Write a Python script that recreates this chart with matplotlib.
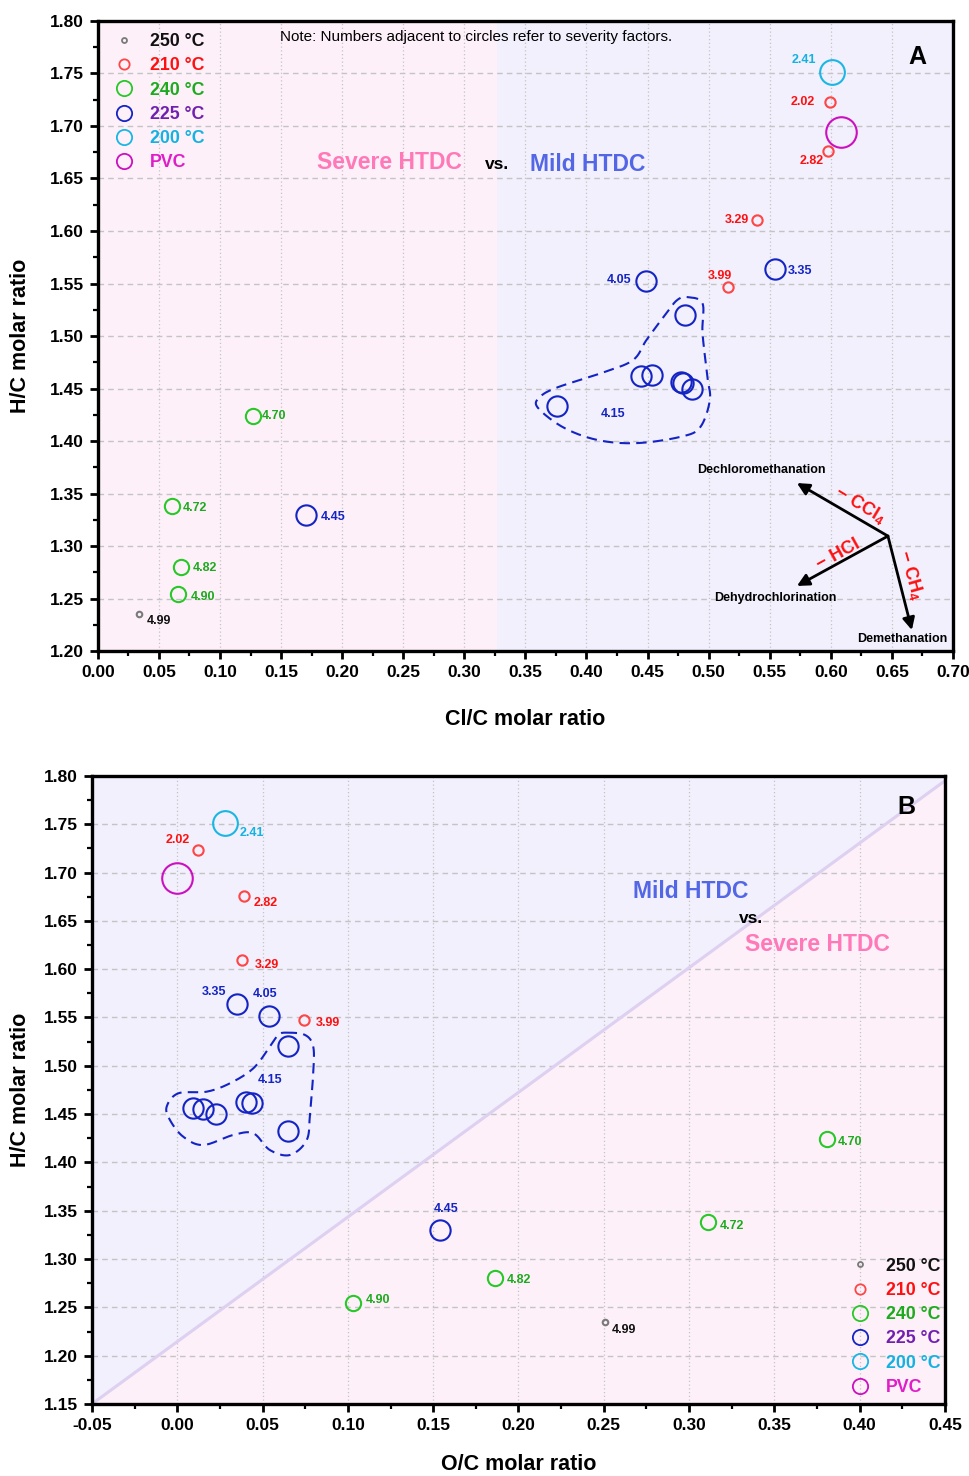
import numpy as np
import matplotlib
matplotlib.use("Agg")
import matplotlib.pyplot as plt
from matplotlib.lines import Line2D
from matplotlib.ticker import MultipleLocator, FormatStrFormatter

plt.rcParams['font.family'] = ['Liberation Sans', 'DejaVu Sans']
plt.rcParams['mathtext.fontset'] = 'custom'
plt.rcParams['mathtext.rm'] = 'Liberation Sans'
plt.rcParams['mathtext.bf'] = 'Liberation Sans:bold'
plt.rcParams['axes.unicode_minus'] = False

# Elemental ratios of hydrochar samples, grouped by HTDC temperature
hc_250 = [1.235]
clc_250 = [0.034]
oc_250 = [0.251]
sf_250 = [4.99]

hc_210 = [1.723, 1.676, 1.610, 1.547]
clc_210 = [0.599, 0.598, 0.540, 0.516]
oc_210 = [0.012, 0.039, 0.038, 0.074]
sf_210 = [2.02, 2.82, 3.29, 3.99]

hc_240 = [1.424, 1.338, 1.280, 1.254]
clc_240 = [0.127, 0.061, 0.068, 0.066]
oc_240 = [0.381, 0.311, 0.186, 0.103]
sf_240 = [4.70, 4.72, 4.82, 4.90]

hc_225 = [1.564, 1.552, 1.330]
clc_225 = [0.554, 0.449, 0.170]
oc_225 = [0.035, 0.054, 0.154]
sf_225 = [3.35, 4.05, 4.45]

# 225 °C samples at severity factor 4.15
hc_225c = [1.520, 1.463, 1.462, 1.456, 1.455, 1.450, 1.433]
clc_225c = [0.481, 0.454, 0.445, 0.477, 0.479, 0.486, 0.376]
oc_225c = [0.065, 0.040, 0.044, 0.009, 0.015, 0.023, 0.065]
sf_225c = 4.15

hc_200 = [1.751]
clc_200 = [0.601]
oc_200 = [0.028]
sf_200 = [2.41]

hc_pvc = [1.694]
clc_pvc = [0.608]
oc_pvc = [0.000]

legend_labels = ['250 °C', '210 °C', '240 °C', '225 °C', '200 °C', 'PVC']

# marker style per group: edge colour, label colour, marker size (pt)
sty = {
    '250': dict(ec='#7a7a7a', tc='#111111', ms=4.0),
    '210': dict(ec='#ff4545', tc='#ff1010', ms=7.4),
    '240': dict(ec='#28c828', tc='#1eaa1e', ms=11.0),
    '225': dict(ec='#1424c4', tc='#1424c4', ms=14.6),
    '200': dict(ec='#1ab6e4', tc='#14b2e0', ms=17.8),
    'PVC': dict(ec='#cc10c0', tc='#cc10c0', ms=22.0),
}
legend_colors = ['#111111', '#ff1010', '#1eaa1e', '#7020b0', '#14b2e0', '#e01ec8']
legend_ms = [3.6, 7.4, 11.0, 11.0, 11.0, 11.0]
legend_ec = [sty[k]['ec'] for k in ['250', '210', '240', '225', '200', 'PVC']]

pink = '#fdf0f9'
lav = '#f1f0fc'
c_sev = '#ff78b8'
c_mild = '#5266e6'

fig = plt.figure(figsize=(9.69, 14.76), dpi=100)
axA = fig.add_axes([0.101, 0.5589, 0.8824, 0.4269])
axB = fig.add_axes([0.0949, 0.0488, 0.8803, 0.4255])


def smooth_closed(pts, n=30):
    # closed Catmull-Rom curve through the outline vertices
    p = np.asarray(pts, float)
    m = len(p)
    out = []
    for i in range(m):
        p0, p1, p2, p3 = p[i - 1], p[i], p[(i + 1) % m], p[(i + 2) % m]
        t = np.linspace(0, 1, n, endpoint=False)[:, None]
        out.append(0.5 * ((2 * p1) + (-p0 + p2) * t + (2 * p0 - 5 * p1 + 4 * p2 - p3) * t ** 2
                          + (-p0 + 3 * p1 - 3 * p2 + p3) * t ** 3))
    out = np.vstack(out)
    return np.vstack([out, out[:1]])


def style_axes(ax, xlim, ylim, xlabel):
    ax.set_xlim(*xlim)
    ax.set_ylim(*ylim)
    ax.xaxis.set_major_locator(MultipleLocator(0.05))
    ax.xaxis.set_minor_locator(MultipleLocator(0.025))
    ax.yaxis.set_major_locator(MultipleLocator(0.05))
    ax.yaxis.set_minor_locator(MultipleLocator(0.025))
    ax.xaxis.set_major_formatter(FormatStrFormatter('%.2f'))
    ax.yaxis.set_major_formatter(FormatStrFormatter('%.2f'))
    ax.tick_params(which='major', direction='out', length=6, width=2, labelsize=12.5, pad=4)
    ax.tick_params(which='minor', direction='out', length=3.5, width=1.6)
    for lab in ax.get_xticklabels() + ax.get_yticklabels():
        lab.set_fontweight('bold')
    for sp in ax.spines.values():
        sp.set_linewidth(2.4)
    ax.grid(axis='y', which='major', color='#c4c4c4', lw=1.0, ls=(0, (4, 3)))
    ax.grid(axis='x', which='major', color='#c4c4c4', lw=0.9, ls=(0, (1, 2)))
    ax.set_axisbelow(True)
    ax.set_xlabel(xlabel, fontsize=15.5, fontweight='bold')
    ax.set_ylabel('H/C molar ratio', fontsize=15.5, fontweight='bold')


def circles(ax, x, y, key, z=4):
    s = sty[key]
    ax.plot(x, y, ls='none', marker='o', mfc='none', mec=s['ec'], ms=s['ms'], mew=1.5, zorder=z)


def sf_labels(ax, x, y, sf, key, offs):
    for xi, yi, v, (dx, dy, ha) in zip(x, y, sf, offs):
        ax.annotate(f'{v:.2f}', (xi, yi), xytext=(dx, dy), textcoords='offset pixels',
                    ha=ha, va='center', fontsize=9, fontweight='bold',
                    color=sty[key]['tc'], zorder=5)


def legend(ax, **kw):
    handles = [Line2D([], [], ls='none', marker='o', mfc='none', mec=c, ms=m, mew=1.3)
               for c, m in zip(legend_ec, legend_ms)]
    leg = ax.legend(handles, legend_labels, frameon=False, labelcolor=legend_colors,
                    prop=dict(size=12.8, weight='bold'), handlelength=1.0,
                    handletextpad=0.98, labelspacing=0.41, borderpad=0, borderaxespad=0, **kw)
    leg.set_zorder(6)


# ---------------- panel A: H/C vs Cl/C ----------------
ax = axA
style_axes(ax, (0, 0.70), (1.20, 1.80), 'Cl/C molar ratio')
ax.axvspan(0, 0.327, color=pink, zorder=0, lw=0)
ax.axvspan(0.327, 0.70, color=lav, zorder=0, lw=0)

circles(ax, clc_250, hc_250, '250')
circles(ax, clc_210, hc_210, '210')
circles(ax, clc_240, hc_240, '240')
circles(ax, clc_225, hc_225, '225')
circles(ax, clc_225c, hc_225c, '225')
circles(ax, clc_200, hc_200, '200')
circles(ax, clc_pvc, hc_pvc, 'PVC')

sf_labels(ax, clc_250, hc_250, sf_250, '250', [(7, -7, 'left')])
sf_labels(ax, clc_210, hc_210, sf_210, '210',
          [(-15, 0, 'right'), (-5, -10, 'right'), (-8, 0, 'right'), (-8, 11, 'center')])
sf_labels(ax, clc_240, hc_240, sf_240, '240',
          [(9, 0, 'left'), (10, -2, 'left'), (12, -1, 'left'), (12, -3, 'left')])
sf_labels(ax, clc_225, hc_225, sf_225, '225',
          [(13, -2, 'left'), (-15, 1, 'right'), (15, -2, 'left')])
sf_labels(ax, clc_200, hc_200, sf_200, '200', [(-16, 12, 'right')])
ax.text(0.4216, 1.4257, f'{sf_225c:.2f}', ha='center', va='center', fontsize=9,
        fontweight='bold', color=sty['225']['tc'])

outline_A = [(0.483, 1.537), (0.495, 1.531), (0.495, 1.503), (0.499, 1.461), (0.501, 1.439),
             (0.493, 1.413), (0.477, 1.404), (0.441, 1.398), (0.409, 1.401), (0.381, 1.413),
             (0.360, 1.432), (0.362, 1.442), (0.376, 1.451), (0.413, 1.465), (0.438, 1.477),
             (0.449, 1.496), (0.463, 1.518), (0.474, 1.534)]
oa = smooth_closed(outline_A)
ax.plot(oa[:, 0], oa[:, 1], color='#1424c4', lw=1.5, ls=(0, (5, 3)), zorder=3)

ax.text(0.149, 1.785, 'Note: Numbers adjacent to circles refer to severity factors.',
        fontsize=11, ha='left', va='center')
ax.text(0.239, 1.665, 'Severe HTDC', color=c_sev, fontsize=16.5, fontweight='bold',
        ha='center', va='center')
ax.text(0.3267, 1.663, 'vs.', fontsize=12.5, fontweight='bold', ha='center', va='center')
ax.text(0.401, 1.663, 'Mild HTDC', color=c_mild, fontsize=16.5, fontweight='bold',
        ha='center', va='center')
ax.text(0.6705, 1.766, 'A', fontsize=18, fontweight='bold', ha='center', va='center')

# reaction pathway arrows
origin = (0.6468, 1.3095)
arrow_kw = dict(arrowstyle='-|>', lw=2.0, color='black', mutation_scale=18, shrinkA=0, shrinkB=0)
for tip in [(0.5723, 1.360), (0.5723, 1.262), (0.6664, 1.220)]:
    ax.annotate('', xy=tip, xytext=origin, arrowprops=arrow_kw, zorder=5)
ax.text(0.5436, 1.3724, 'Dechloromethanation', fontsize=9, fontweight='bold', ha='center', va='center')
ax.text(0.5543, 1.2505, 'Dehydrochlorination', fontsize=9, fontweight='bold', ha='center', va='center')
ax.text(0.6583, 1.2114, 'Demethanation', fontsize=9, fontweight='bold', ha='center', va='center')
ax.text(0.6239, 1.339, r'$\mathbf{-\ CCl_4}$', color='#ff1010', fontsize=13,
        rotation=-31, ha='center', va='center', rotation_mode='anchor')
ax.text(0.6059, 1.2914, r'$\mathbf{-\ HCl}$', color='#ff1010', fontsize=13,
        rotation=29, ha='center', va='center', rotation_mode='anchor')
ax.text(0.6656, 1.2724, r'$\mathbf{-\ CH_4}$', color='#ff1010', fontsize=13,
        rotation=-74, ha='center', va='center', rotation_mode='anchor')

legend(ax, loc='upper left', bbox_to_anchor=(0.0202, 0.981))
ax.xaxis.set_label_coords(0.5, -0.092)
ax.yaxis.set_label_coords(-0.078, 0.5)

# ---------------- panel B: H/C vs O/C ----------------
ax = axB
style_axes(ax, (-0.05, 0.45), (1.15, 1.80), 'O/C molar ratio')
dx = np.array([-0.05, 0.45])
dy = np.array([1.15, 1.795])
ax.fill_between(dx, dy, 1.80, color=lav, zorder=0, lw=0)
ax.fill_between(dx, 1.15, dy, color=pink, zorder=0, lw=0)
ax.plot(dx, dy, color='#ddd0f0', lw=2.2, zorder=1)

circles(ax, oc_250, hc_250, '250')
circles(ax, oc_210, hc_210, '210')
circles(ax, oc_240, hc_240, '240')
circles(ax, oc_225, hc_225, '225')
circles(ax, oc_225c, hc_225c, '225')
circles(ax, oc_200, hc_200, '200')
circles(ax, oc_pvc, hc_pvc, 'PVC')

sf_labels(ax, oc_250, hc_250, sf_250, '250', [(6, -8, 'left')])
sf_labels(ax, oc_210, hc_210, sf_210, '210',
          [(-8, 10, 'right'), (10, -7, 'left'), (13, -5, 'left'), (12, -3, 'left')])
sf_labels(ax, oc_240, hc_240, sf_240, '240',
          [(10, -3, 'left'), (12, -4, 'left'), (12, -2, 'left'), (13, 3, 'left')])
sf_labels(ax, oc_225, hc_225, sf_225, '225',
          [(-23, 12, 'center'), (-4, 22, 'center'), (6, 21, 'center')])
sf_labels(ax, oc_200, hc_200, sf_200, '200', [(15, -10, 'left')])
ax.text(0.0543, 1.4853, f'{sf_225c:.2f}', ha='center', va='center', fontsize=9,
        fontweight='bold', color=sty['225']['tc'])

outline_B = [(0.0641, 1.5343), (0.0749, 1.5319), (0.0797, 1.5198), (0.0797, 1.4926),
             (0.0778, 1.4511), (0.0759, 1.4232), (0.0661, 1.4077), (0.0543, 1.4128),
             (0.0446, 1.4301), (0.0328, 1.4284), (0.0152, 1.4180), (0.0035, 1.4266),
             (-0.0043, 1.4439), (-0.0062, 1.4577), (0.0006, 1.4715), (0.0172, 1.4732),
             (0.0309, 1.4819), (0.0446, 1.4974), (0.0543, 1.5198), (0.0592, 1.5319)]
ob = smooth_closed(outline_B)
ax.plot(ob[:, 0], ob[:, 1], color='#1424c4', lw=1.5, ls=(0, (5, 3)), zorder=3)

ax.text(0.3011, 1.680, 'Mild HTDC', color=c_mild, fontsize=16.5, fontweight='bold',
        ha='center', va='center')
ax.text(0.3363, 1.652, 'vs.', fontsize=12.5, fontweight='bold', ha='center', va='center')
ax.text(0.375, 1.626, 'Severe HTDC', color=c_sev, fontsize=16.5, fontweight='bold',
        ha='center', va='center')
ax.text(0.4271, 1.768, 'B', fontsize=18, fontweight='bold', ha='center', va='center')

legend(ax, loc='lower left', bbox_to_anchor=(0.890, 0.0127))
ax.xaxis.set_label_coords(0.5, -0.079)
ax.yaxis.set_label_coords(-0.0715, 0.5)

fig.savefig('out.png', dpi=100)
